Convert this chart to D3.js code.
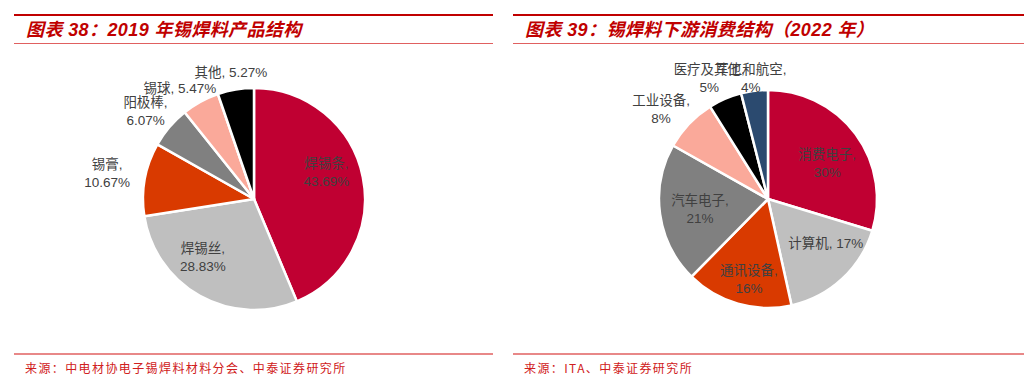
<!DOCTYPE html>
<html><head><meta charset="utf-8">
<script src="https://cdn.jsdelivr.net/npm/d3@7"></script>
<style>
html,body{margin:0;padding:0;background:#fff;}
svg{display:block;}
</style>
</head><body>
<svg id="c" width="1035" height="382"></svg>
<script>
// ---- data ----
const leftTitle = "图表 38：2019 年锡焊料产品结构";
const leftSource = "来源：中电材协电子锡焊料材料分会、中泰证券研究所";
const leftCategories = ["焊锡条", "焊锡丝", "锡膏", "阳极棒", "锡球", "其他"];
const leftValues = [43.69, 28.83, 10.67, 6.07, 5.47, 5.27];
const leftValueLabels = ["43.69%", "28.83%", "10.67%", "6.07%", "5.47%", "5.27%"];

const rightTitle = "图表 39：锡焊料下游消费结构（2022 年）";
const rightSource = "来源：ITA、中泰证券研究所";
const rightCategories = ["消费电子", "计算机", "通讯设备", "汽车电子", "工业设备", "医疗及其他", "军工和航空"];
const rightValues = [30, 17, 16, 21, 8, 5, 4];
const rightValueLabels = ["30%", "17%", "16%", "21%", "8%", "5%", "4%"];

// ---- style / layout ----
const leftColors = ["#C00032", "#BFBFBF", "#D93A00", "#808080", "#FAA99A", "#000000"];
const rightColors = ["#C00032", "#BFBFBF", "#D93A00", "#808080", "#FAA99A", "#000000", "#2B4A6F"];
// label layout: radius factor, nudge x, nudge y, single line?
const leftLabelLayout = [
  {rf:0.684, nx:-2, ny:-12, one:false},
  {rf:0.685, nx:-14, ny:-8, one:false},
  {rf:1.344, nx:0, ny:1, one:false},
  {rf:1.26, nx:-2, ny:3, one:false},
  {rf:1.2, nx:-10, ny:5.5, one:true},
  {rf:1.16, nx:-2, ny:0, one:true}
];
const rightLabelLayout = [
  {rf:0.63, nx:4, ny:5, one:false},
  {rf:0.66, nx:9, ny:-9, one:true},
  {rf:0.75, nx:3.5, ny:1, one:false},
  {rf:0.63, nx:0, ny:0, one:false},
  {rf:1.28, nx:-6, ny:6.5, one:false},
  {rf:1.23, nx:-6, ny:2.5, one:false},
  {rf:1.12, nx:-2, ny:0, one:false}
];

const svg = d3.select("#c");
const CJK = "'Liberation Sans', Arial, 'Noto Sans CJK SC', sans-serif";

function panel(x0, x1, title, source, titleX) {
  const g = svg.append("g");
  g.append("line").attr("x1", x0).attr("x2", x1).attr("y1", 15).attr("y2", 15)
    .attr("stroke", "#C00000").attr("stroke-width", 2.2);
  g.append("line").attr("x1", x0).attr("x2", x1).attr("y1", 43.5).attr("y2", 43.5)
    .attr("stroke", "#E06060").attr("stroke-width", 1.2);
  g.append("line").attr("x1", x0).attr("x2", x1).attr("y1", 354).attr("y2", 354)
    .attr("stroke", "#E06060").attr("stroke-width", 1.5);
  g.append("text").attr("x", titleX).attr("y", 36)
    .attr("font-family", "'Liberation Sans', Arial, 'Noto Sans CJK SC', sans-serif")
    .attr("font-size", 18).attr("font-weight", "bold").attr("font-style", "italic")
    .attr("letter-spacing", 0.4)
    .attr("fill", "#C00000").text(title);
  g.append("text").attr("x", titleX - 1).attr("y", 373)
    .attr("font-family", "'Noto Sans CJK SC', sans-serif")
    .attr("font-size", 12).attr("letter-spacing", 1.4)
    .attr("fill", "#D02020").text(source);
}

function pie(cx, cy, r, cats, vals, vlabels, colors, layout) {
  const g = svg.append("g").attr("transform", `translate(${cx},${cy})`);
  const arcs = d3.pie().sort(null).value(d => d)(vals);
  const arc = d3.arc().innerRadius(0).outerRadius(r);
  g.selectAll("path").data(arcs).enter().append("path")
    .attr("d", arc).attr("fill", (d, i) => colors[i])
    .attr("stroke", "#fff").attr("stroke-width", 2.5).attr("stroke-linejoin", "round");
  arcs.forEach((d, i) => {
    const L = layout[i];
    const mid = (d.startAngle + d.endAngle) / 2;
    const x = Math.sin(mid) * r * L.rf + L.nx;
    const y = -Math.cos(mid) * r * L.rf + L.ny;
    const t = g.append("text").attr("text-anchor", "middle")
      .attr("font-family", CJK).attr("font-size", 13.5).attr("fill", "#404040");
    if (L.one) {
      t.append("tspan").attr("x", x).attr("y", y + 5).text(cats[i] + ", " + vlabels[i]);
    } else {
      t.append("tspan").attr("x", x).attr("y", y - 4).text(cats[i] + ",");
      t.append("tspan").attr("x", x).attr("y", y + 14).text(vlabels[i]);
    }
  });
}

panel(14, 493, leftTitle, leftSource, 26);
panel(513, 1024, rightTitle, rightSource, 525);
pie(254, 199, 111, leftCategories, leftValues, leftValueLabels, leftColors, leftLabelLayout);
pie(768, 199, 109, rightCategories, rightValues, rightValueLabels, rightColors, rightLabelLayout);
</script>
</body></html>
